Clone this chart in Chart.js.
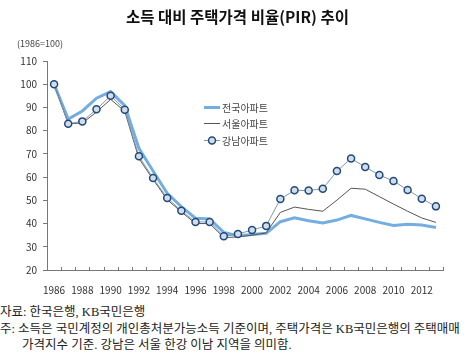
<!DOCTYPE html>
<html>
<head>
<meta charset="utf-8">
<script src="https://cdn.jsdelivr.net/npm/chart.js@4.4.1/dist/chart.umd.min.js"></script>
<style>
  html, body { margin: 0; padding: 0; background: #fff; }
  #wrap { position: relative; width: 475px; height: 355px; overflow: hidden; }
  #chartBox { position: absolute; left: 0; top: 0; width: 475px; height: 300px; }
  .t { position: absolute; white-space: nowrap; color: #222; }
  #title { left: 0; width: 475px; text-align: center; top: 5px; font: bold 15.5px "Noto Sans CJK KR", sans-serif; color: #111; }
  #unit { left: 17px; top: 37px; font: 9px "Noto Sans CJK KR", sans-serif; color: #444; }
  .foot { left: 0; font: 12.5px "Liberation Serif", "Noto Sans CJK KR", serif; color: #222; }
</style>
</head>
<body>
<div id="wrap">
  <div id="chartBox"><canvas id="c" width="475" height="300"></canvas></div>
  <div class="t" id="title">소득 대비 주택가격 비율(PIR) 추이</div>
  <div class="t" id="unit">(1986=100)</div>
  <div class="t foot" style="top:301px">자료: 한국은행, KB국민은행</div>
  <div class="t foot" style="top:318px">주: 소득은 국민계정의 개인총처분가능소득 기준이며, 주택가격은 KB국민은행의 주택매매</div>
  <div class="t foot" style="top:334px;left:22px">가격지수 기준. 강남은 서울 한강 이남 지역을 의미함.</div>
</div>
<script>
const years = ['1986','1987','1988','1989','1990','1991','1992','1993','1994','1995','1996','1997','1998','1999','2000','2001','2002','2003','2004','2005','2006','2007','2008','2009','2010','2011','2012','2013'];
const seriesNames = ['전국아파트', '서울아파트', '강남아파트'];
const national = [100,85,88.5,94,96.8,90.8,72.4,62.6,53,47.3,42.3,42,36.2,34.8,35.3,35.8,40.8,42.5,41.2,40.2,41.5,43.5,42,40.5,39.2,39.7,39.4,38.3];
const seoul    = [100,83,83.3,88,93.5,88.3,68,59,50.3,45,40,40,34,34.2,35,36,44.8,47.1,46.1,45.3,50.1,55.2,54.8,51.6,48.4,45.3,42.4,40.5];
const gangnam  = [100,83,84,89.2,95,89,69,59.6,51,45.5,40.7,40.7,34.5,35.5,37.2,39,50.6,54.3,54.2,55,62.6,68,64.4,60.9,58.3,54.5,50.7,47.4];
const yTicks = [20,30,40,50,60,70,80,90,100,110];

const natColor = '#74aee0';
const seoulColor = '#555555';
const gnLine = '#8097b3';
const gnBorder = '#1f4a7a';
const gnFill = '#d3dde9';

const innerTicks = {
  id: 'innerTicks',
  afterDraw(chart) {
    const x = chart.scales.x, a = chart.chartArea, ctx = chart.ctx;
    const n = years.length;
    const half = (x.getPixelForValue(1) - x.getPixelForValue(0)) / 2;
    ctx.save();
    ctx.strokeStyle = '#777';
    ctx.lineWidth = 1;
    for (let i = 0; i <= n; i++) {
      const px = Math.round(x.getPixelForValue(i) - half) + 0.5;
      ctx.beginPath();
      ctx.moveTo(px, a.bottom);
      ctx.lineTo(px, a.bottom - 3);
      ctx.stroke();
    }
    ctx.restore();
  }
};

const legendPlugin = {
  id: 'customLegend',
  afterDraw(chart) {
    const ctx = chart.ctx;
    const rows = [107, 123, 140];
    const x0 = 204, x1 = 220, tx = 222;
    ctx.save();
    ctx.font = '10px "Noto Sans CJK KR", sans-serif';
    ctx.textBaseline = 'middle';
    chart.data.datasets.forEach((ds, i) => {
      const y = rows[i];
      ctx.strokeStyle = ds.borderColor;
      ctx.lineWidth = ds.borderWidth;
      ctx.beginPath();
      ctx.moveTo(x0, y + 0.5);
      ctx.lineTo(x1, y + 0.5);
      ctx.stroke();
      if (ds.pointRadius > 0) {
        ctx.beginPath();
        ctx.arc((x0 + x1) / 2, y + 0.5, ds.pointRadius, 0, Math.PI * 2);
        ctx.fillStyle = ds.pointBackgroundColor;
        ctx.fill();
        ctx.lineWidth = ds.pointBorderWidth;
        ctx.strokeStyle = ds.pointBorderColor;
        ctx.stroke();
      }
      ctx.fillStyle = '#444';
      ctx.fillText(ds.label, tx, y + 1);
    });
    ctx.restore();
  }
};

new Chart(document.getElementById('c'), {
  type: 'line',
  data: {
    labels: years,
    datasets: [
      { label: seriesNames[0], data: national, borderColor: natColor, borderWidth: 3, pointRadius: 0, tension: 0, order: 3 },
      { label: seriesNames[1], data: seoul, borderColor: seoulColor, borderWidth: 1, pointRadius: 0, tension: 0, order: 2 },
      { label: seriesNames[2], data: gangnam, borderColor: gnLine, borderWidth: 1, pointRadius: 3.5,
        pointBackgroundColor: gnFill, pointBorderColor: gnBorder, pointBorderWidth: 1.5, tension: 0, order: 1 }
    ]
  },
  options: {
    responsive: false,
    animation: false,
    layout: { padding: { top: 61, right: 32, left: 0, bottom: 0 } },
    plugins: { legend: { display: false }, tooltip: { enabled: false }, title: { display: false } },
    scales: {
      x: {
        offset: true,
        grid: { display: false },
        border: { display: true, color: '#777', width: 1 },
        ticks: {
          autoSkip: false, maxRotation: 0, padding: 6,
          color: '#333', font: { size: 10, family: '"Noto Sans CJK KR", sans-serif' },
          callback: (v, i) => (i % 2 === 0 ? years[i] : '')
        },
        afterFit(s) { s.height = 30; }
      },
      y: {
        min: 20, max: 110,
        afterBuildTicks(s) { s.ticks = yTicks.map(v => ({ value: v })); },
        grid: { drawOnChartArea: false, drawTicks: true, tickLength: 4, color: '#777' },
        border: { display: true, color: '#777', width: 1 },
        ticks: { color: '#333', padding: 6, font: { size: 10, family: '"Noto Sans CJK KR", sans-serif' } },
        afterFit(s) { s.width = 47; }
      }
    }
  },
  plugins: [innerTicks, legendPlugin]
});
</script>
</body>
</html>
